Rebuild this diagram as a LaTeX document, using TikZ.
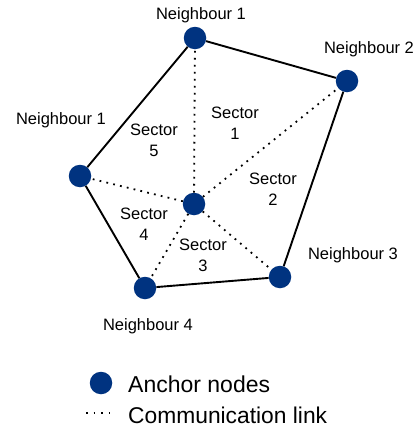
\documentclass[tikz,border=0pt]{standalone}
\usepackage{fontspec}
\setmainfont{Liberation Sans}
\usetikzlibrary{positioning}
\definecolor{anchorblue}{RGB}{0,51,128}

\begin{document}
\begin{tikzpicture}[x=1pt,y=-1pt,
		anchornode/.style={circle,fill=anchorblue,minimum size=22.5pt,inner sep=0pt},
		nblabel/.style={font=\fontsize{16.5}{21}\selectfont,align=center,inner sep=0pt},
		legendtext/.style={font=\fontsize{23}{26}\selectfont,anchor=west,inner sep=0pt},
		boundary/.style={line width=1.9pt,black},
		link/.style={line width=1.8pt,dash pattern=on 1.8pt off 5.2pt}]
			\useasboundingbox (0,0) rectangle (417,431);
%-----Anchor nodes-----
			\node[anchornode] (n1) at (195,38) {};
			\node[anchornode] (n2) at (347,81) {};
			\node[anchornode] (n3) at (280,277) {};
			\node[anchornode] (n4) at (145,288) {};
			\node[anchornode] (n5) at (80,176) {};
			\node[anchornode] (c) at (194,204) {};
%-----Neighbour labels-----
			\node[nblabel] (l1) at (201,15) {Neighbour 1};
			\node[nblabel] (l2) at (369,49) {Neighbour 2};
			\node[nblabel] (l3) at (353,255) {Neighbour 3};
			\node[nblabel] (l4) at (148,326) {Neighbour 4};
			\node[nblabel] (l5) at (61,120) {Neighbour 1};
%-----Sector labels-----
			\node[nblabel] (s1) at (235,123) {Sector\\1};
			\node[nblabel] (s2) at (273,189) {Sector\\2};
			\node[nblabel] (s3) at (203,255) {Sector\\3};
			\node[nblabel] (s4) at (144,224) {Sector\\4};
			\node[nblabel] (s5) at (154,140) {Sector\\5};
%-----Boundary and links-----
			\draw[boundary] (n1) -- (n2) -- (n3) -- (n4) -- (n5) -- (n1);
			\foreach \n in {1,...,5}
				{
					\draw[link] (c) -- (n\n);
				}
%-----Legend-----
			\node[anchornode] (lgnode) at (101,383) {};
			\node[legendtext] (lgnodetext) at (128,384) {Anchor nodes};
			\coordinate (lga) at (86,413);
			\coordinate (lgb) at (114,413);
			\draw[link,line width=1.6pt,dash pattern=on 1.6pt off 6pt] (lga) -- (lgb);
			\node[legendtext,font=\fontsize{22.8}{26}\selectfont] (lglinktext) at (128,415) {Communication link};
		\end{tikzpicture}
\end{document}
